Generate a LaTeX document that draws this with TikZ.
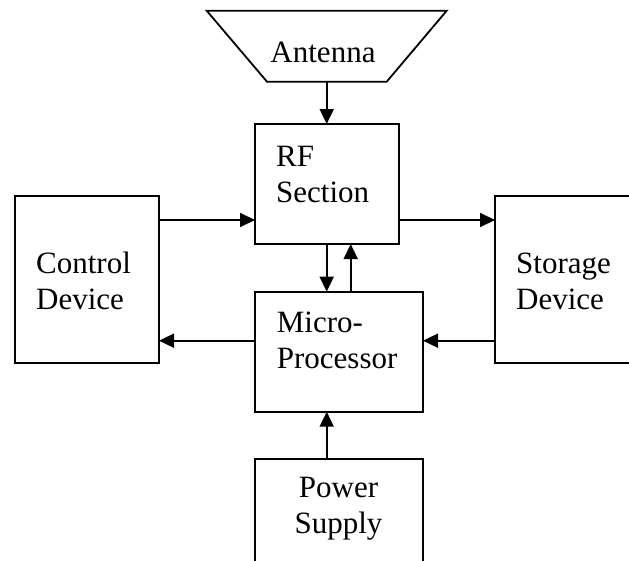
\documentclass[tikz,border=0pt]{standalone}
\usepackage{fontspec}
\setmainfont{Liberation Serif}
\usetikzlibrary{arrows.meta}
\begin{document}
\begin{tikzpicture}[x=1pt,y=-1pt,
  box/.style={draw,line width=1.8pt,minimum width=#1,inner sep=0pt,outer sep=0pt},
  lbl/.style={font=\fontsize{31}{36}\selectfont,inner sep=0pt,align=left},
  arr/.style={line width=1.8pt,-{Triangle[length=15pt,width=14pt]}}]
\useasboundingbox (0,0) rectangle (629,560);
\clip (0,0) rectangle (629,560);
% antenna
\draw[line width=1.8pt,fill=white] (206.7,10.7) -- (446.7,10.7) -- (386.7,81.7) -- (267,81.7) -- cycle;
\coordinate (antb) at (326.7,81.7);
\node[lbl] (anttxt) at (323,52) {Antenna};
% boxes
\node[box=144pt,minimum height=120pt] (rf) at (327,184) {};
\node[box=168pt,minimum height=120pt] (mp) at (339,351.7) {};
\node[box=144pt,minimum height=167pt] (ctrl) at (87,279.5) {};
\node[box=144pt,minimum height=167pt] (stor) at (567,279.5) {};
\node[box=168pt,minimum height=120pt] (pwr) at (339,519) {};
% texts
\node[lbl,anchor=west] (rftxt) at (276,174) {RF\\Section};
\node[lbl,anchor=west] (mptxt) at (276.7,340) {Micro-\\Processor};
\node[lbl,anchor=west] (ctxt) at (36,281) {Control\\Device};
\node[lbl,anchor=west] (stxt) at (516,281) {Storage\\Device};
\node[lbl,align=center] (ptxt) at (338.5,508.5) {Power\\Supply};
% connectors
\draw[arr] (antb) -- (antb |- rf.north);
\draw[arr] (ctrl.east |- 0,220) -- (rf.west |- 0,220);
\draw[arr] (rf.east |- 0,220) -- (stor.west |- 0,220);
\draw[arr] (rf.south -| 326.7,0) -- (mp.north -| 326.7,0);
\draw[arr] (mp.north -| 350.7,0) -- (rf.south -| 350.7,0);
\draw[arr] (mp.west |- 0,340.7) -- (ctrl.east |- 0,340.7);
\draw[arr] (stor.west |- 0,340.7) -- (mp.east |- 0,340.7);
\draw[arr] (pwr.north -| 326.7,0) -- (mp.south -| 326.7,0);
\end{tikzpicture}
\end{document}
